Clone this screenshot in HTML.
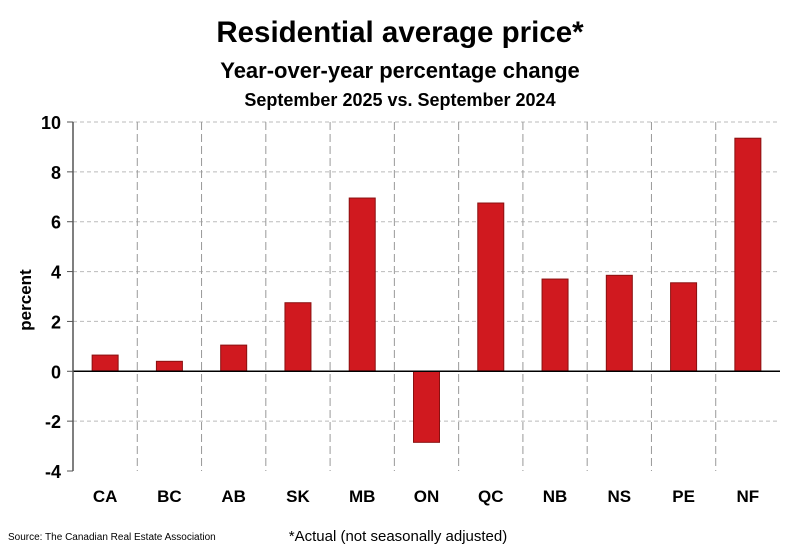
<!DOCTYPE html>
<html><head><meta charset="utf-8"><style>
body{margin:0;background:#fff;width:800px;height:548px;overflow:hidden;font-family:"Liberation Sans",sans-serif}
</style></head><body>
<svg width="800" height="548" font-family="Liberation Sans, sans-serif">
<text x="400" y="42" text-anchor="middle" font-size="29.5" font-weight="bold">Residential average price*</text>
<text x="400" y="78" text-anchor="middle" font-size="22" font-weight="bold">Year-over-year percentage change</text>
<text x="400" y="106" text-anchor="middle" font-size="18" font-weight="bold">September 2025 vs. September 2024</text>
<text transform="translate(31,300) rotate(-90)" text-anchor="middle" font-size="17" font-weight="bold">percent</text>
<text x="8" y="540" font-size="10">Source: The Canadian Real Estate Association</text>
<text x="398" y="541" text-anchor="middle" font-size="15">*Actual (not seasonally adjusted)</text>
<g id="plot"></g>
</svg>
<script>
const categories=["CA","BC","AB","SK","MB","ON","QC","NB","NS","PE","NF"];
const values=[0.65,0.4,1.05,2.75,6.95,-2.85,6.75,3.7,3.85,3.55,9.35];
const yTicks=[10,8,6,4,2,0,-2,-4];
const L=73,R=780,T=122,B=471,yMin=-4,yMax=10;
const y=v=>T+(yMax-v)/(yMax-yMin)*(B-T);
const bw=(R-L)/categories.length;
const x=i=>L+bw*i;
const g=document.getElementById('plot');
const NS="http://www.w3.org/2000/svg";
function mk(t,a){const e=document.createElementNS(NS,t);for(const k in a)e.setAttribute(k,a[k]);g.appendChild(e);return e;}
yTicks.forEach(v=>{
 if(v!==0&&v!==yMin){const l=mk('line',{x1:L,x2:R,y1:y(v),y2:y(v),stroke:'#bbb','stroke-dasharray':'4,3'});
 
 }
 const tk=mk('line',{x1:L-6,x2:L,y1:y(v),y2:y(v),stroke:'#555'});
 
 
 const t=mk('text',{x:L-12,y:y(v)+7,'text-anchor':'end','font-size':18,'font-weight':'bold'});t.textContent=v;
 
 
});
for(let i=1;i<categories.length;i++){const l=mk('line',{x1:x(i),x2:x(i),y1:T,y2:B,stroke:'#999','stroke-dasharray':'8,4'});
 
 }
categories.forEach((c,i)=>{
 const cx=x(i)+bw/2,v=values[i];
 const r=mk('rect',{x:cx-13,width:26,y:Math.min(y(v),y(0)),height:Math.abs(y(v)-y(0)),fill:'#d0191f',stroke:'#8a1010','stroke-width':1});
 
 
 const t=mk('text',{x:cx,y:B+31,'text-anchor':'middle','font-size':17,'font-weight':'bold'});t.textContent=c;
 
 
});
const z=mk('line',{x1:L,x2:R,y1:y(0),y2:y(0),stroke:'#000','stroke-width':1.5});


const ax=mk('line',{x1:L,x2:L,y1:T,y2:B,stroke:'#555','stroke-width':1.5});


</script>
</body></html>
